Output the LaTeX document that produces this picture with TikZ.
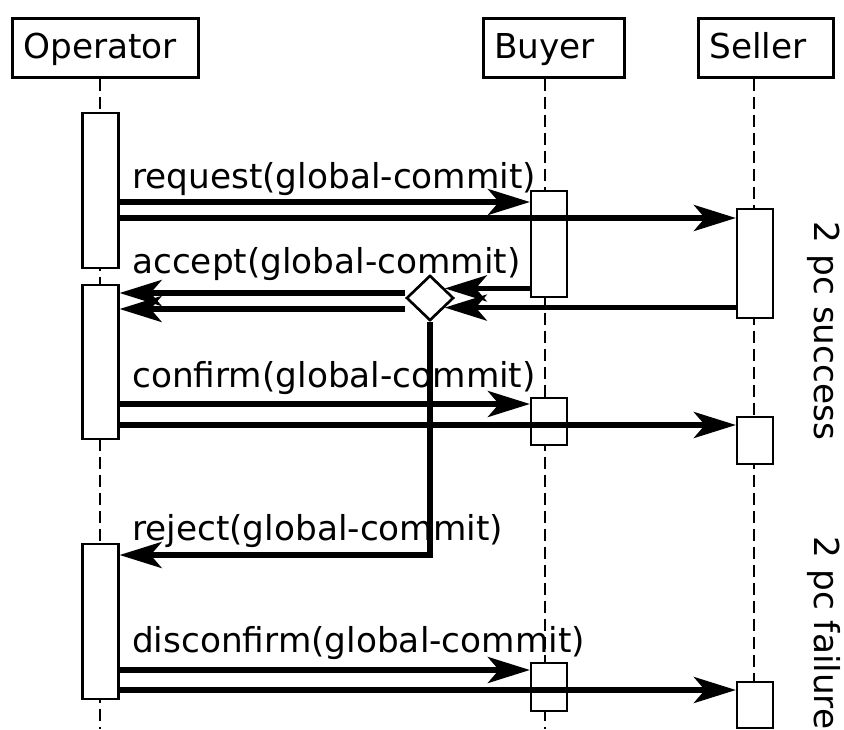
\documentclass[tikz,border=0pt]{standalone}
\usepackage{fontspec}
\setmainfont{DejaVu Sans}
\usetikzlibrary{arrows.meta,shapes.geometric}
\tikzset{
  actor/.style={draw, line width=2.5pt, fill=white, anchor=north west, align=left, inner xsep=11pt, inner ysep=0pt, minimum height=59pt, text height=28pt, text depth=6pt},
  life line/.style={line width=2pt, dash pattern=on 12pt off 6pt},
  activation/.style={draw, line width=2.2pt, fill=white, anchor=north, minimum width=36pt, inner sep=0pt},
  message/.style={line width=5.5pt, -{Stealth[length=42pt,width=26pt,inset=11pt]}},
  message label/.style={anchor=base west, inner sep=0pt},
  decision/.style={diamond, draw, line width=2.5pt, fill=white, minimum width=47pt, minimum height=45pt, inner sep=0pt},
  phase label/.style={rotate=-90, inner sep=0pt},
}

\begin{document}
\begin{tikzpicture}[x=1pt, y=-1pt, font=\fontsize{34.3pt}{41pt}\selectfont]
\useasboundingbox (0,0) rectangle (844,729);
% the actors
\node [actor, text width=164pt] (op) at (11,17) {Operator};
\node [actor, text width=119pt] (bu) at (482,17) {Buyer};
\node [actor, text width=113pt] (se) at (697,17) {Seller};
% life lines
\coordinate (opEnd) at (100,729);
\coordinate (buEnd) at (545,729);
\coordinate (seEnd) at (754,729);
\draw [life line] (op.south -| opEnd) -- (opEnd);
\draw [life line] (bu.south -| buEnd) -- (buEnd);
\draw [life line] (se.south -| seEnd) -- (seEnd);
% activations
\node [activation, minimum height=155pt] (opA1) at (100.5,112) {};
\node [activation, minimum height=154pt] (opA2) at (100.5,284) {};
\node [activation, minimum height=155pt] (opA3) at (100.5,543) {};
\node [activation, minimum height=106pt] (buA1) at (549,190) {};
\node [activation, minimum height=47pt] (buA2) at (549,397) {};
\node [activation, minimum height=48pt] (buA3) at (549,662) {};
\node [activation, minimum height=109pt] (seA1) at (755,208) {};
\node [activation, minimum height=47pt] (seA2) at (755,416) {};
\node [activation, minimum height=46pt] (seA3) at (755,681) {};
% labels
\node [message label] (lReq) at (132,188) {request(global-commit)};
\node [message label] (lAcc) at (132,273) {accept(global-commit)};
\node [message label] (lCon) at (132,387) {confirm(global-commit)};
\node [message label] (lRej) at (132,540) {reject(global-commit)};
\node [message label] (lDis) at (132,652) {disconfirm(global-commit)};
\node [phase label] (phOk) at (824,331) {2 pc success};
\node [phase label] (phFail) at (824,633) {2 pc failure};
% message rows
\coordinate (yReqB) at (0,202);
\coordinate (yReqS) at (0,218);
\coordinate (yAccA) at (0,293);
\coordinate (yAccB) at (0,309);
\coordinate (yConB) at (0,404);
\coordinate (yConS) at (0,425);
\coordinate (yRej) at (0,555);
\coordinate (yDisB) at (0,670);
\coordinate (yDisS) at (0,690);
\node [decision] (dia) at (430,298) {};
%drawings of messages
\draw [message] (opA1.east |- yReqB) -- (buA1.west |- yReqB);
\draw [message] (opA1.east |- yReqS) -- (seA1.west |- yReqS);

\draw [message] (buA1.west |- dia.33) -- (dia.33);
\draw [message] (seA1.west |- dia.-33) -- (dia.-33);
\draw [message] (dia.west |- yAccA) -- (opA2.east |- yAccA);
\draw [message] (dia.west |- yAccB) -- (opA2.east |- yAccB);
\draw [message] (dia.south) |- (opA3.east |- yRej);

\draw [message] (opA2.east |- yConB) -- (buA2.west |- yConB);
\draw [message] (opA2.east |- yConS) -- (seA2.west |- yConS);

\draw [message] (opA3.east |- yDisB) -- (buA3.west |- yDisB);
\draw [message] (opA3.east |- yDisS) -- (seA3.west |- yDisS);
% decision on top
\node [decision] at (dia) {};
\end{tikzpicture}
\end{document}
